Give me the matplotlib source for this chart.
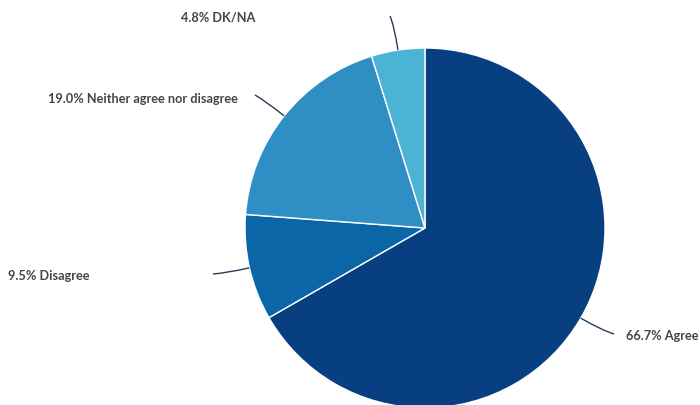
import numpy as np
import matplotlib
matplotlib.use('Agg')
import matplotlib.pyplot as plt
from matplotlib.path import Path
from matplotlib.patches import PathPatch

# survey responses, drawn clockwise from 12 o'clock
labels = ['Agree', 'Disagree', 'Neither agree nor disagree', 'DK/NA']
shares = [66.7, 9.5, 19.0, 4.8]
colors = ['#083f80', '#0b66a8', '#2f8fc4', '#4db3d5']

W, H = 700, 405
cx, cy, r = 425, H - 228, 180

# where each label sits (left/right anchor, pixel coords from the top)
label_xy = [(626, 336, 'left'), (8, 276, 'left'), (238, 99, 'right'), (255, 18, 'right')]
connector_end = [(614, 334), (213, 274), (255, 95), (390, 16)]

fig = plt.figure(figsize=(7, 4.05), dpi=100)
ax = fig.add_axes([0, 0, 1, 1])

wedges, _ = ax.pie(shares, colors=colors, startangle=90, counterclock=False,
                   center=(cx, cy), radius=r, frame=True,
                   wedgeprops=dict(edgecolor='white', linewidth=1))
ax.set_xlim(0, W)
ax.set_ylim(0, H)
ax.set_aspect('equal')
ax.axis('off')

for w, lab, val, (tx, ty, ha), (ex, ey) in zip(wedges, labels, shares, label_xy, connector_end):
    mid = np.deg2rad((w.theta1 + w.theta2) / 2)
    p0 = (cx + r * np.cos(mid), cy + r * np.sin(mid))
    pc = (cx + (r + 24) * np.cos(mid), cy + (r + 24) * np.sin(mid))
    p1 = (ex, H - ey)
    path = Path([p0, pc, p1], [Path.MOVETO, Path.CURVE3, Path.CURVE3])
    ax.add_patch(PathPatch(path, fill=False, edgecolor='#2b3a55', linewidth=1))
    ax.text(tx, H - ty, f'{val:.1f}% {lab}', ha=ha, va='center',
            fontsize=9.2, fontweight='bold', family='Lato', color='#454545')

fig.savefig('out.png', dpi=100)
